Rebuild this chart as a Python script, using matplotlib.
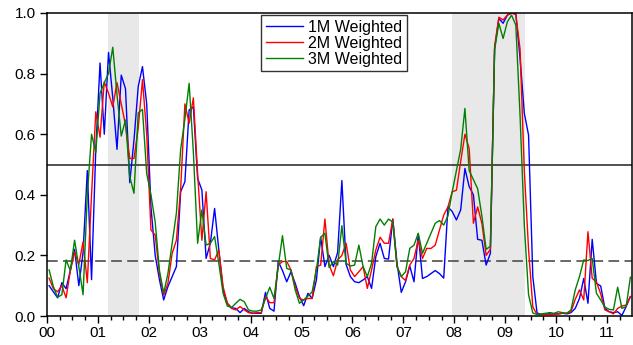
import numpy as np
import matplotlib
matplotlib.use("Agg")
import matplotlib.pyplot as plt
from matplotlib.ticker import FixedLocator, MultipleLocator

plt.rcParams['font.family'] = ['Liberation Sans', 'DejaVu Sans']

# Monthly recession probabilities, 2000M01 - 2011M06
start_year = 2000
w1m = [0.10, 0.08, 0.06, 0.11, 0.09, 0.15, 0.22, 0.10, 0.21, 0.48, 0.12, 0.55,
       0.835, 0.60, 0.87, 0.72, 0.55, 0.795, 0.75, 0.44, 0.58, 0.757, 0.823, 0.70,
       0.36, 0.20, 0.12, 0.053, 0.097, 0.13, 0.163, 0.41, 0.443, 0.68, 0.69, 0.454,
       0.416, 0.19, 0.24, 0.355, 0.218, 0.086, 0.042, 0.027, 0.025, 0.011, 0.025, 0.014,
       0.009, 0.009, 0.009, 0.078, 0.025, 0.016, 0.18, 0.15, 0.113, 0.146, 0.108, 0.064,
       0.034, 0.075, 0.058, 0.119, 0.26, 0.163, 0.20, 0.163, 0.21, 0.447, 0.17, 0.13,
       0.113, 0.11, 0.119, 0.13, 0.091, 0.196, 0.24, 0.19, 0.188, 0.32, 0.174, 0.078,
       0.113, 0.165, 0.113, 0.27, 0.124, 0.13, 0.14, 0.15, 0.14, 0.125, 0.36, 0.345,
       0.317, 0.35, 0.487, 0.427, 0.40, 0.253, 0.25, 0.168, 0.207, 0.883, 0.982, 0.966,
       0.993, 1.0, 0.997, 0.85, 0.669, 0.597, 0.13, 0.01, 0.005, 0.007, 0.011, 0.007,
       0.007, 0.009, 0.007, 0.011, 0.025, 0.058, 0.124, 0.042, 0.253, 0.108, 0.099, 0.025,
       0.014, 0.011, 0.014, 0.002, 0.031, 0.064]
w2m = [0.125, 0.09, 0.08, 0.10, 0.06, 0.15, 0.21, 0.17, 0.245, 0.11, 0.40, 0.674,
       0.59, 0.773, 0.735, 0.69, 0.77, 0.70, 0.63, 0.52, 0.52, 0.62, 0.78, 0.60,
       0.284, 0.267, 0.14, 0.069, 0.108, 0.207, 0.25, 0.42, 0.70, 0.636, 0.72, 0.47,
       0.25, 0.41, 0.19, 0.185, 0.218, 0.097, 0.042, 0.025, 0.02, 0.031, 0.02, 0.011,
       0.009, 0.011, 0.011, 0.064, 0.044, 0.044, 0.168, 0.18, 0.18, 0.152, 0.097, 0.058,
       0.053, 0.058, 0.058, 0.163, 0.168, 0.32, 0.168, 0.133, 0.185, 0.20, 0.24, 0.152,
       0.13, 0.146, 0.163, 0.091, 0.152, 0.218, 0.26, 0.24, 0.24, 0.32, 0.163, 0.13,
       0.117, 0.168, 0.19, 0.25, 0.19, 0.223, 0.223, 0.234, 0.284, 0.333, 0.36, 0.41,
       0.415, 0.51, 0.60, 0.553, 0.306, 0.36, 0.306, 0.20, 0.22, 0.89, 0.986, 0.977,
       0.993, 1.0, 0.995, 0.88, 0.48, 0.22, 0.03, 0.005, 0.005, 0.005, 0.005, 0.005,
       0.007, 0.009, 0.009, 0.014, 0.055, 0.086, 0.053, 0.278, 0.124, 0.113, 0.073, 0.02,
       0.014, 0.007, 0.025, 0.033, 0.036, 0.064]
w3m = [0.152, 0.097, 0.062, 0.07, 0.185, 0.15, 0.25, 0.163, 0.07, 0.40, 0.60, 0.54,
       0.735, 0.77, 0.80, 0.887, 0.73, 0.594, 0.647, 0.46, 0.405, 0.67, 0.682, 0.47,
       0.40, 0.31, 0.15, 0.075, 0.14, 0.24, 0.34, 0.55, 0.65, 0.768, 0.54, 0.24,
       0.35, 0.234, 0.24, 0.262, 0.174, 0.075, 0.033, 0.028, 0.042, 0.055, 0.047, 0.02,
       0.016, 0.016, 0.02, 0.058, 0.095, 0.058, 0.163, 0.265, 0.157, 0.152, 0.086, 0.042,
       0.053, 0.066, 0.08, 0.152, 0.26, 0.273, 0.16, 0.18, 0.168, 0.298, 0.174, 0.165,
       0.168, 0.234, 0.163, 0.13, 0.174, 0.295, 0.32, 0.30, 0.32, 0.31, 0.163, 0.13,
       0.146, 0.223, 0.234, 0.273, 0.207, 0.24, 0.273, 0.306, 0.315, 0.30, 0.33, 0.41,
       0.48, 0.55, 0.685, 0.48, 0.45, 0.42, 0.33, 0.22, 0.23, 0.88, 0.966, 0.916,
       0.971, 0.993, 0.96, 0.66, 0.30, 0.07, 0.01, 0.005, 0.007, 0.009, 0.009, 0.009,
       0.014, 0.011, 0.009, 0.02, 0.086, 0.13, 0.185, 0.183, 0.19, 0.075, 0.053, 0.029,
       0.022, 0.02, 0.095, 0.025, 0.031, 0.128]

series_names = ["1M Weighted", "2M Weighted", "3M Weighted"]
series_colors = ["#0000ff", "#ff0000", "#008000"]

# NBER recession spans (decimal years)
recessions = [(2001.196, 2001.81), (2007.947, 2009.398)]
upper_threshold = 0.5
lower_threshold = 0.18
year_labels = ["00", "01", "02", "03", "04", "05", "06", "07", "08", "09", "10", "11"]
y_ticks = [0.0, 0.2, 0.4, 0.6, 0.8, 1.0]

n = len(w1m)
t = start_year + (np.arange(n) + 0.5) / 12.0

fig = plt.figure(figsize=(6.33, 3.45), dpi=100)
ax = fig.add_axes([47 / 633, 1 - 316 / 345, 585 / 633, 303 / 345])

for a, b in recessions:
    ax.axvspan(a, b, color="#e8e8e8", lw=0, zorder=0)

ax.axhline(upper_threshold, color="#222222", lw=1.1, zorder=1)
ax.axhline(lower_threshold, color="#404040", lw=1.1, ls=(0, (7, 3.5)), zorder=1)

for vals, name, col in zip([w1m, w2m, w3m], series_names, series_colors):
    ax.plot(t, vals, color=col, lw=1.0, label=name, zorder=2)

ax.set_xlim(2000, 2011.49)
ax.set_ylim(0, 1.0)

ax.xaxis.set_major_locator(FixedLocator(np.arange(2000, 2012)))
ax.set_xticklabels(year_labels)
ax.xaxis.set_minor_locator(MultipleLocator(0.25))
ax.set_yticks(y_ticks)
ax.set_yticklabels([f"{v:.1f}" for v in y_ticks])

ax.tick_params(axis="both", which="major", direction="out", length=5, width=1,
               labelsize=11, colors="black")
ax.tick_params(axis="x", which="minor", direction="out", length=3, width=1)
ax.tick_params(axis="x", pad=2)
ax.tick_params(axis="y", pad=3)

for s in ax.spines.values():
    s.set_linewidth(1.1)
    s.set_color("black")

leg = ax.legend(loc="upper center", bbox_to_anchor=(0.4906, 0.993), fontsize=11.5,
                frameon=True, fancybox=False, edgecolor="black", handlelength=2.3,
                handletextpad=0.35, borderpad=0.3, labelspacing=0.05,
                borderaxespad=0.0)
leg.get_frame().set_linewidth(1.0)

fig.savefig("out.png", dpi=100)
